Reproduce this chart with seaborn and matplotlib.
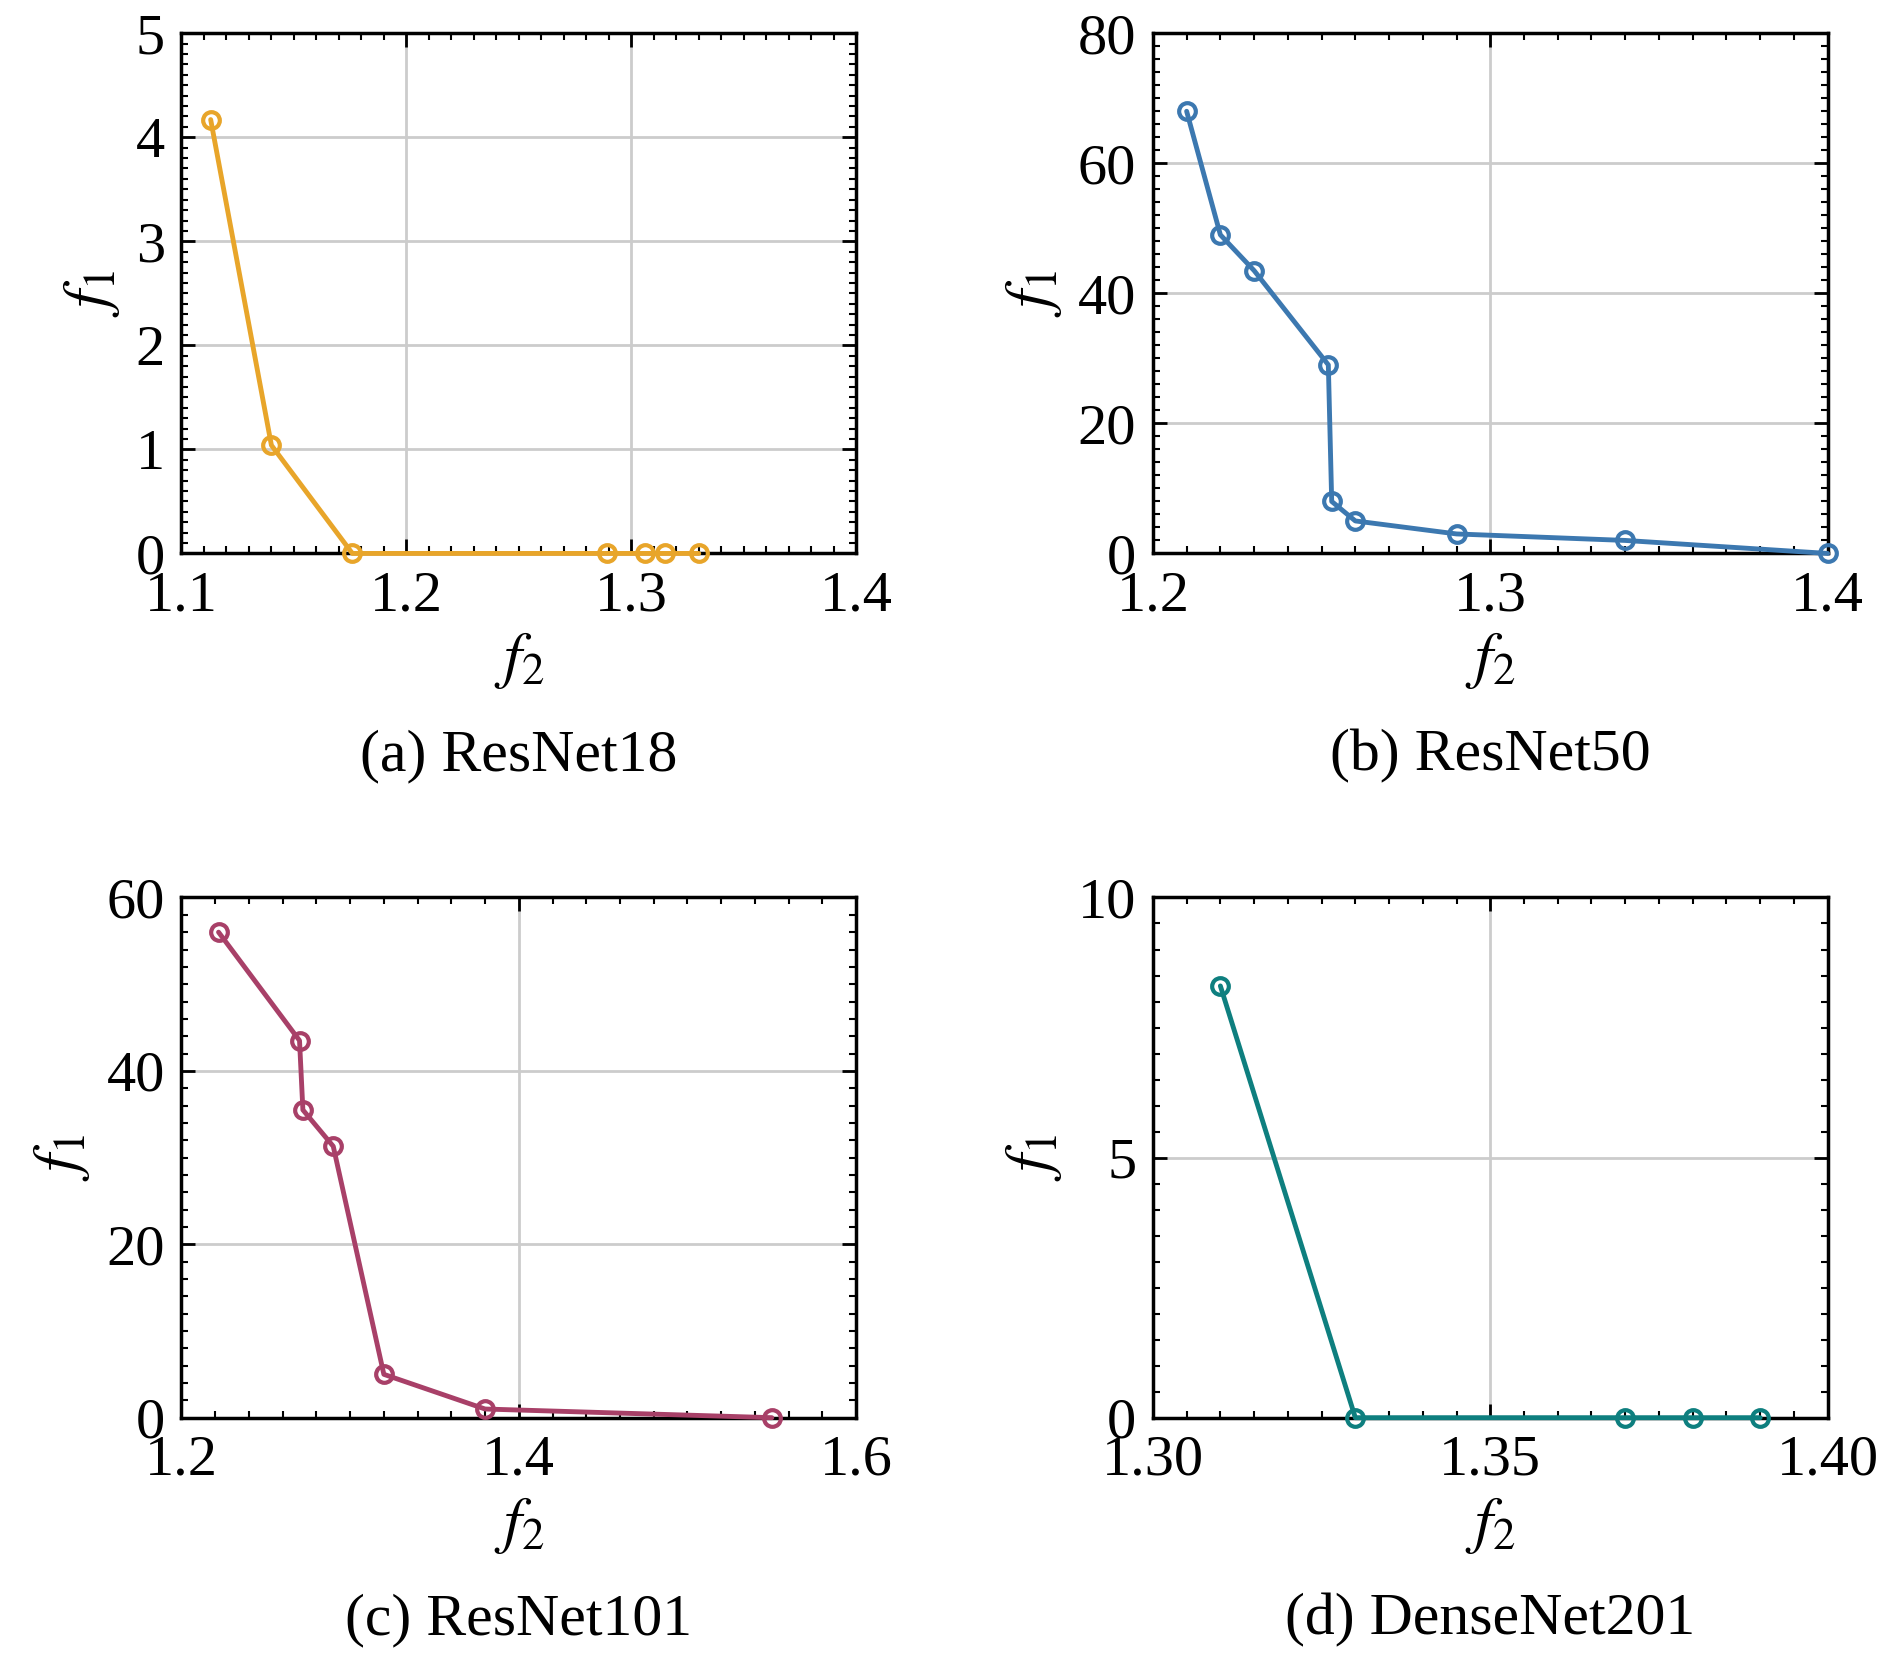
import matplotlib
matplotlib.use("Agg")
import matplotlib.pyplot as plt
import seaborn as sns
from matplotlib.ticker import AutoMinorLocator, FormatStrFormatter

sns.set_style("white")
plt.rcParams['font.family'] = ['Liberation Serif', 'DejaVu Serif']
plt.rcParams['mathtext.fontset'] = 'stix'
for k in ['text.color', 'axes.labelcolor', 'xtick.color', 'ytick.color']:
    plt.rcParams[k] = 'black'

a_x = [1.113, 1.14, 1.176, 1.289, 1.306, 1.315, 1.33]
a_y = [4.17, 1.04, 0, 0, 0, 0, 0]
b_x = [1.21, 1.22, 1.23, 1.252, 1.253, 1.26, 1.29, 1.34, 1.4]
b_y = [68, 49, 43.5, 29, 8, 5, 3, 2, 0]
c_x = [1.222, 1.27, 1.272, 1.29, 1.32, 1.38, 1.55]
c_y = [56, 43.5, 35.5, 31.3, 5, 1, 0]
d_x = [1.31, 1.33, 1.37, 1.38, 1.39]
d_y = [8.3, 0, 0, 0, 0]

panels = [
    (a_x, a_y, "#E8A52A", (1.1, 1.4), [1.1, 1.2, 1.3, 1.4], (0, 5), [0, 1, 2, 3, 4, 5], "%.1f", "(a) ResNet18", (0.096, 0.667)),
    (b_x, b_y, "#3C78B0", (1.2, 1.4), [1.2, 1.3, 1.4], (0, 80), [0, 20, 40, 60, 80], "%.1f", "(b) ResNet50", (0.610, 0.667)),
    (c_x, c_y, "#A84068", (1.2, 1.6), [1.2, 1.4, 1.6], (0, 60), [0, 20, 40, 60], "%.1f", "(c) ResNet101", (0.096, 0.147)),
    (d_x, d_y, "#0E7F7F", (1.3, 1.4), [1.30, 1.35, 1.40], (0, 10), [0, 5, 10], "%.2f", "(d) DenseNet201", (0.610, 0.147)),
]

fig = plt.figure(figsize=(18.9, 16.62), dpi=100)
W, H = 0.357, 0.313
for x, y, col, xl, xt, yl, yt, fmt, cap, (l, b) in panels:
    ax = fig.add_axes([l, b, W, H])
    sns.lineplot(x=x, y=y, ax=ax, color=col, linewidth=3.5, marker='o', markersize=12,
                 markerfacecolor='none', markeredgecolor=col, markeredgewidth=3, sort=False,
                 clip_on=False, zorder=5)
    ax.set_xlim(*xl); ax.set_ylim(*yl)
    ax.set_xticks(xt); ax.set_yticks(yt)
    ax.xaxis.set_major_formatter(FormatStrFormatter(fmt))
    ax.xaxis.set_minor_locator(AutoMinorLocator(10))
    ax.yaxis.set_minor_locator(AutoMinorLocator(10))
    ax.grid(True, color='#cccccc', linewidth=2)
    ax.tick_params(which='both', direction='in', top=True, right=True, bottom=True, left=True,
                   labelsize=42, pad=12)
    ax.tick_params(which='major', length=10, width=2)
    ax.tick_params(which='minor', length=5, width=1.5)
    for s in ax.spines.values():
        s.set_linewidth(2.5); s.set_color('black')
    ax.set_xlabel(r"$f_2$", fontsize=46, labelpad=6)
    ax.set_ylabel(r"$f_1$", fontsize=46, labelpad=10)
    fig.text(l + W/2, b - 0.122, cap, ha='center', va='center', fontsize=43)

fig.savefig("out.png", dpi=100)
